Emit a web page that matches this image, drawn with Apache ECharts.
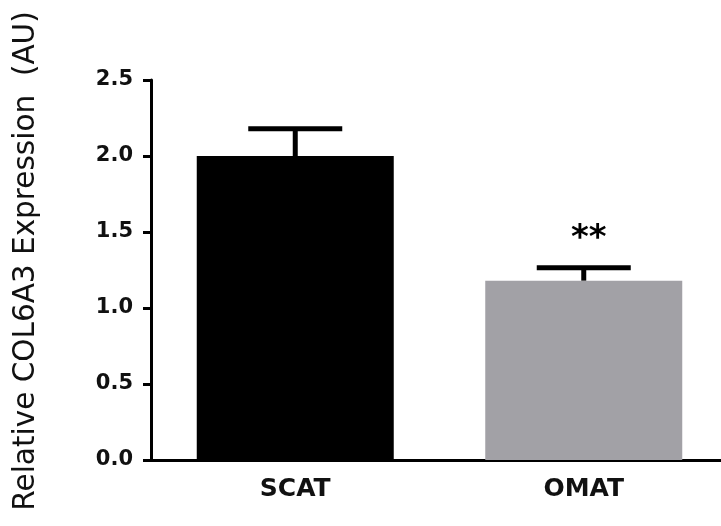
<!DOCTYPE html>
<html>
<head>
<meta charset="utf-8">
<script src="https://cdn.jsdelivr.net/npm/echarts@6/dist/echarts.min.js"></script>
<style>html,body{margin:0;padding:0;background:#fff;}#c{width:721px;height:526px;}</style>
</head>
<body>
<div id="c"></div>
<script>
const categories = ['SCAT', 'OMAT'];
const means = [2.0, 1.18];
const errors = [0.18, 0.085];
const significance = ['', '**'];
const barColors = ['#000000', '#a2a1a6'];
const yTicks = { min: 0, max: 2.5, interval: 0.5 };
const yTitle = 'Relative COL6A3 Expression  (AU)';

const chart = echarts.init(document.getElementById('c'), null, { renderer: 'canvas' });
const FONT = 'DejaVu Sans';

const barData = means.map((v, i) => ({ value: v, itemStyle: { color: barColors[i] } }));
const errData = means.map((v, i) => [i, v, v + errors[i], significance[i]]);

chart.setOption({
  animation: false,
  backgroundColor: '#ffffff',
  grid: { left: 151, width: 577, top: 80, bottom: 66, containLabel: false, outerBoundsMode: 'none' },
  xAxis: {
    type: 'category',
    data: categories,
    axisLine: { lineStyle: { color: '#000', width: 3 } },
    axisTick: { alignWithLabel: true, length: 8, lineStyle: { color: '#000', width: 3 } },
    axisLabel: { color: '#111', fontFamily: FONT, fontWeight: 'bold', fontSize: 25, margin: 17 },
    splitLine: { show: false }
  },
  yAxis: {
    type: 'value',
    min: yTicks.min, max: yTicks.max, interval: yTicks.interval,
    name: yTitle,
    nameLocation: 'middle',
    nameGap: 110,
    nameTextStyle: { color: '#111', fontFamily: FONT, fontSize: 29.5, padding: [0, 0, 0, 18] },
    axisLine: { show: true, lineStyle: { color: '#000', width: 3 } },
    axisTick: { show: true, length: 8, lineStyle: { color: '#000', width: 3 } },
    axisLabel: { color: '#111', fontFamily: FONT, fontWeight: 'bold', fontSize: 21, margin: 18,
      formatter: v => v.toFixed(1) },
    splitLine: { show: false }
  },
  series: [
    {
      type: 'bar',
      data: barData,
      barWidth: 197,
      z: 2
    },
    {
      type: 'custom',
      data: errData,
      z: 3,
      renderItem: function (params, api) {
        const x = api.value(0);
        const lo = api.coord([x, api.value(1)]);
        const hi = api.coord([x, api.value(2)]);
        const half = 47;
        const children = [
          { type: 'line', shape: { x1: lo[0], y1: lo[1], x2: hi[0], y2: hi[1] }, style: { stroke: '#000', lineWidth: 5 } },
          { type: 'line', shape: { x1: hi[0] - half, y1: hi[1], x2: hi[0] + half, y2: hi[1] }, style: { stroke: '#000', lineWidth: 5 } }
        ];
        const sig = api.value(3);
        if (sig) {
          children.push({ type: 'text', x: hi[0] + 5, y: hi[1] - 12,
            style: { text: sig, fill: '#000', font: 'bold 34px "DejaVu Sans"', align: 'center', verticalAlign: 'bottom' } });
        }
        return { type: 'group', children: children };
      }
    }
  ]
});
</script>
</body>
</html>
